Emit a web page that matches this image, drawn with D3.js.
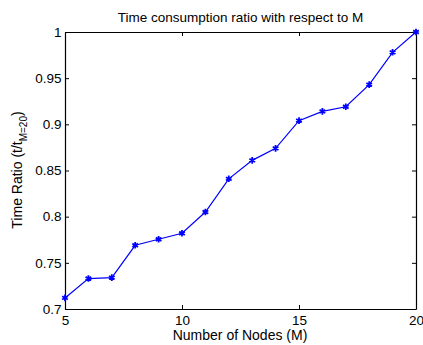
<!DOCTYPE html>
<html>
<head>
<meta charset="utf-8">
<script src="https://cdn.jsdelivr.net/npm/d3@7"></script>
<style>
  body { margin: 0; background: #fff; }
  text { font-family: Arial, "Liberation Sans", Helvetica, sans-serif; fill: #000; }
</style>
</head>
<body>
<div id="wrapper"></div>
<script>
// data
const nodes = [5, 6, 7, 8, 9, 10, 11, 12, 13, 14, 15, 16, 17, 18, 19, 20]
const ratios = [0.712, 0.733, 0.734, 0.769, 0.7755, 0.782, 0.805, 0.841,
                0.861, 0.874, 0.904, 0.914, 0.919, 0.943, 0.978, 1.0]
const xTicks = [5, 10, 15, 20]
const yTicks = [0.7, 0.75, 0.8, 0.85, 0.9, 0.95, 1]

const data = nodes.map((m, i) => ({m, r: ratios[i]}))

const dimensions = {
  width: 423,
  height: 345,
  margin: {top: 32, right: 7, bottom: 36, left: 65},
}
dimensions.boundedWidth = dimensions.width - dimensions.margin.left - dimensions.margin.right
dimensions.boundedHeight = dimensions.height - dimensions.margin.top - dimensions.margin.bottom

const svg = d3.select("#wrapper").append("svg")
    .attr("width", dimensions.width)
    .attr("height", dimensions.height)

const bounds = svg.append("g")
    .attr("transform", `translate(${dimensions.margin.left},${dimensions.margin.top})`)

const x = d3.scaleLinear().domain([5, 20]).range([0, dimensions.boundedWidth])
const y = d3.scaleLinear().domain([0.7, 1]).range([dimensions.boundedHeight, 0])

const tickLen = 4
const fmt = d => String(+d.toFixed(2))

// axes, MATLAB style: ticks inside on all four sides
bounds.append("g")
    .attr("transform", `translate(0,${dimensions.boundedHeight})`)
    .call(d3.axisBottom(x).tickValues(xTicks).tickSizeInner(-tickLen).tickSizeOuter(0).tickPadding(6).tickFormat(fmt))
bounds.append("g")
    .call(d3.axisTop(x).tickValues(xTicks).tickSizeInner(-tickLen).tickSizeOuter(0).tickFormat(""))
bounds.append("g")
    .call(d3.axisLeft(y).tickValues(yTicks).tickSizeInner(-tickLen).tickSizeOuter(0).tickPadding(3.5).tickFormat(fmt))
bounds.append("g")
    .attr("transform", `translate(${dimensions.boundedWidth},0)`)
    .call(d3.axisRight(y).tickValues(yTicks).tickSizeInner(-tickLen).tickSizeOuter(0).tickFormat(""))

bounds.selectAll(".domain").attr("stroke", "#000").attr("stroke-width", 1.2)
bounds.selectAll(".tick line").attr("stroke", "#000")
bounds.selectAll(".tick text")
    .style("font-size", "13.5px")
    .style("font-family", "Arial, 'Liberation Sans', sans-serif")

// line + markers
const line = d3.line().x(d => x(d.m)).y(d => y(d.r))
bounds.append("path")
    .datum(data)
    .attr("d", line)
    .attr("fill", "none")
    .attr("stroke", "#0000ff")
    .attr("stroke-width", 1.2)

const star = d3.symbol().type(d3.symbolAsterisk).size(30)
bounds.selectAll(".mk")
  .data(data)
  .join("path")
    .attr("class", "mk")
    .attr("transform", d => `translate(${x(d.m)},${y(d.r)})`)
    .attr("d", star)
    .attr("fill", "none")
    .attr("stroke", "#0000ff")
    .attr("stroke-width", 1.8)

// labels
svg.append("text")
    .attr("x", dimensions.margin.left + dimensions.boundedWidth / 2)
    .attr("y", 21.5)
    .attr("text-anchor", "middle")
    .style("font-size", "13.5px")
    .text("Time consumption ratio with respect to M")

svg.append("text")
    .attr("x", 240)
    .attr("y", 339.5)
    .attr("text-anchor", "middle")
    .style("font-size", "14px")
    .text("Number of Nodes (M)")

const yLabel = svg.append("text")
    .attr("transform", "translate(22,170) rotate(-90)")
    .attr("text-anchor", "middle")
    .style("font-size", "14px")
yLabel.append("tspan").text("Time Ratio (t/t")
yLabel.append("tspan").attr("dy", 4.5).style("font-size", "10px").text("M=20")
yLabel.append("tspan").attr("dy", -4.5).text(")")
</script>
</body>
</html>
